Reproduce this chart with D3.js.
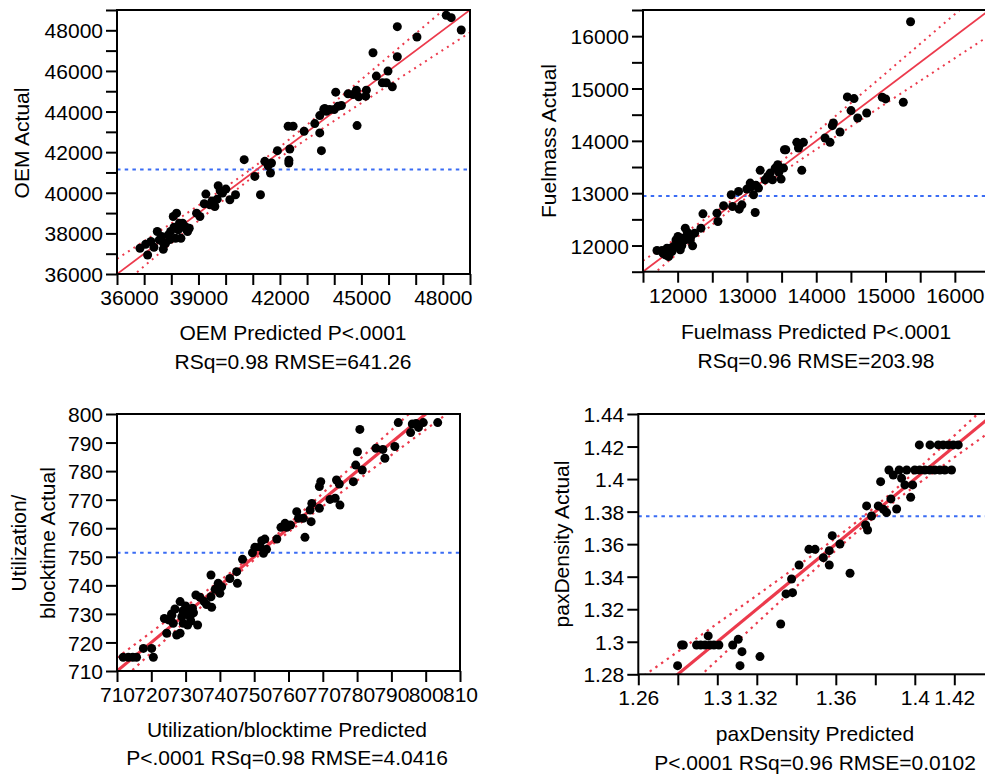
<!DOCTYPE html>
<html><head><meta charset="utf-8">
<script src="https://cdn.jsdelivr.net/npm/d3@7"></script>
<style>
body{margin:0;background:#fff;overflow:hidden}
svg{display:block}
text{font-family:"Liberation Sans",Arial,sans-serif;fill:#000;font-size:21px}
</style></head><body>
<svg id="c" width="985" height="776"></svg>
<script>
// ---------- Panel 1: OEM ----------
const oemPred = [36846,37054,37128,37361,37483,37557,37643,37704,37790,37888,
 37974,38072,38194,38158,38256,38354,38415,38501,38599,38660,
 38930,39053,39212,39273,39420,39604,39690,39727,39886,40009,
 40156,40365,40684,41076,41284,41444,41566,41652,41689,41909,
 42302,42327,42364,42486,42890,43283,43467,43467,43528,43614,
 43712,43835,44055,44141,44264,44509,44693,44816,44841,44902,
 45159,45183,45428,45551,45772,45919,45980,46139,46323,46323,
 47047,48125,48309,48677,37250,37700,37950,38100,38300,38550,
 42330,43650,44000,39500,39800];
const oemActual = [37267,37465,36938,37317,38090,37679,37844,37218,37514,37926,
 38090,38831,38996,37761,38173,37761,38502,38337,38090,38255,
 38996,38831,39457,39934,39407,39325,39687,40346,39983,40181,
 39654,39901,41629,40806,39901,41547,41333,40971,41465,42074,
 43275,41465,42156,43275,43028,43407,42946,43802,42074,44098,
 44016,44098,44954,44262,44296,44872,44839,45053,43308,44724,
 44757,45053,46897,45744,45415,45415,45991,45218,46699,48180,
 47670,48740,48624,48016,37600,37550,37700,38300,38500,38200,
 41600,44150,44100,39600,40100];
const oemMean = 41140;
const oemBand = [[36000,35254,36746],[37500,36948,38052],[39000,38626,39374],[40500,40254,40746],
 [41140,40910,41370],[42000,41741,42259],[43500,43101,43899],[45000,44420,45580],
 [46500,45725,47275],[48000,47026,48974],[49000,47891,50109]];
const oemXTicks = d3.range(36000, 49001, 1000);
const oemXLabels = [36000,39000,42000,45000,48000];
const oemYTicks = d3.range(36000, 49001, 1000);
const oemYLabels = [36000,38000,40000,42000,44000,46000,48000];

// ---------- Panel 2: Fuelmass ----------
const fuelPred = [11702,11774,11822,11870,11846,11918,11942,11976,12005,12038,
 12038,12072,12110,12110,12149,12182,12216,12245,12336,12365,
 12567,12581,12663,12773,12792,12879,12888,12927,12999,13047,
 13095,13119,13167,13191,13263,13335,13369,13407,13445,13493,
 13527,13541,13719,13743,13815,13791,14127,14199,14232,14247,
 14343,14449,14502,14545,14598,14728,14953,15001,15256,15361,
 11790,11900,11990,12060,12140,12190,13130,13060,13300,13460,
 13560,13760];
const fuelActual = [11904,11904,11821,11789,11949,11885,11981,12108,12172,11917,
 12045,12140,12332,12108,12204,12108,11994,12236,12332,12606,
 12619,12459,12759,12970,12746,13034,12695,12778,13078,13193,
 12970,12632,13097,13436,13257,13384,13257,13480,13544,13270,
 13480,13831,13971,13863,13971,13436,14054,13971,14290,14341,
 14169,14839,14578,14807,14437,14533,14833,14801,14737,16275,
 11850,11950,12060,12000,12250,12170,13150,13120,13320,13400,
 13830,13920];
const fuelMean = 12948;
const fuelBand = [[11500,11289,11711],[12000,11849,12151],[12500,12400,12600],[12948,12868,13028],
 [13500,13391,13609],[14000,13837,14163],[14500,14276,14724],[15000,14712,15288],
 [15500,15146,15854],[16000,15580,16420],[16500,16014,16986]];
const fuelXTicks = d3.range(11500, 16501, 500);
const fuelXLabels = [12000,13000,14000,15000,16000];
const fuelYTicks = d3.range(11500, 16501, 500);
const fuelYLabels = [12000,13000,14000,15000,16000];

// ---------- Panel 3: Utilization/blocktime ----------
const utilPred = [711.8,713.3,714.6,715.7,717.7,720.1,720.6,723.8,724.5,725.0,
 725.9,726.4,726.9,727.4,728.4,728.4,728.9,729.3,730.0,730.6,
 730.8,731.3,732.3,733.0,733.5,734.2,735.4,736.1,737.4,737.4,
 737.6,738.6,739.5,740.0,740.5,742.9,744.9,745.1,746.6,749.5,
 750.2,751.7,752.2,752.7,753.1,753.6,756.6,757.8,759.0,759.5,
 760.6,762.4,762.9,764.3,764.8,766.6,766.3,766.8,769.0,769.0,
 769.4,772.1,773.6,774.0,774.8,775.0,778.9,779.6,780.1,780.8,
 781.5,785.5,787.5,788.1,791.0,792.0,795.6,796.1,797.2,797.9,
 799.3,803.5,726.0,731.5,729.2,732.0];
const utilActual = [714.8,714.8,714.8,714.8,717.9,717.9,714.8,728.4,723.2,727.9,
 730.0,726.7,731.7,722.6,734.3,723.2,729.0,726.7,732.8,726.1,
 730.8,729.0,730.4,736.6,726.1,735.8,734.3,733.3,736.0,743.6,
 732.3,738.6,740.7,737.2,739.5,742.4,744.8,740.7,749.1,751.4,
 753.3,753.5,755.6,751.2,756.2,752.6,756.2,760.3,761.7,760.3,
 761.1,765.8,763.5,763.5,756.8,762.3,766.4,768.7,774.6,767.0,
 776.3,770.1,770.5,776.9,775.5,768.1,776.3,782.1,786.8,794.6,
 780.4,788.0,787.6,784.5,788.6,797.0,793.5,796.5,796.7,795.3,
 797.0,797.0,729.5,727.5,731.0,732.0];
const utilMean = 751.4;
const utilBand = [[710,705.34,714.66],[720,716.4,723.6],[730,727.44,732.56],[740,738.4,741.6],
 [751.4,750.4,752.4],[760,758.62,761.38],[770,767.72,772.28],[780,776.7,783.3],
 [790,785.64,794.36],[800,794.56,805.44],[810,803.47,816.53]];
const utilXTicks = d3.range(710, 811, 10);
const utilXLabels = d3.range(710, 811, 10);
const utilYTicks = d3.range(710, 801, 10);
const utilYLabels = d3.range(710, 801, 10);

// ---------- Panel 4: paxDensity ----------
const paxPred = [1.2799,1.2819,1.2828,1.2895,1.2916,1.2938,1.2954,1.2963,1.2983,1.3008,
 1.3078,1.3106,1.3115,1.3125,1.3216,1.3321,1.3348,1.3381,1.3376,1.3414,
 1.3464,1.3495,1.3537,1.3567,1.3567,1.3582,1.3621,1.3672,1.3751,1.3761,
 1.3756,1.3781,1.3815,1.3827,1.3841,1.3857,1.3879,1.3908,1.3869,1.3891,
 1.3921,1.3933,1.3959,1.3950,1.3979,1.3989,1.4000,1.4025,1.4051,1.4076,
 1.4101,1.4127,1.4152,1.4186,1.4023,1.4077,1.4119,1.4144,1.4170,1.4195,
 1.4220];
const paxActual = [1.2853,1.2980,1.2980,1.2980,1.2980,1.2980,1.3036,1.2980,1.2980,1.2980,
 1.2980,1.3015,1.2853,1.2939,1.2909,1.3109,1.3294,1.3302,1.3386,1.3472,
 1.3568,1.3568,1.3517,1.3472,1.3560,1.3652,1.3601,1.3421,1.3718,1.3687,
 1.3835,1.3773,1.3835,1.3984,1.3814,1.3794,1.3878,1.3816,1.4056,1.4025,
 1.4056,1.4005,1.4056,1.3964,1.3888,1.3964,1.4056,1.4056,1.4056,1.4056,
 1.4056,1.4056,1.4056,1.4056,1.4210,1.4210,1.4210,1.4210,1.4210,1.4210,
 1.4210];
const paxMean = 1.3771;
const paxBand = [[1.26,1.2434,1.2767],[1.28,1.2661,1.2939],[1.30,1.2888,1.3112],[1.32,1.3115,1.3285],
 [1.34,1.3340,1.3460],[1.36,1.3562,1.3638],[1.377,1.374,1.380],[1.39,1.3865,1.3935],
 [1.40,1.3956,1.4044],[1.42,1.4133,1.4267],[1.44,1.4307,1.4493]];
const paxXTicks = [1.26,1.28,1.30,1.32,1.34,1.36,1.38,1.40,1.42,1.44];
const paxXLabels = [1.26,1.30,1.32,1.36,1.40,1.42];
const paxYTicks = [1.28,1.30,1.32,1.34,1.36,1.38,1.40,1.42,1.44];
const paxYLabels = [1.28,1.30,1.32,1.34,1.36,1.38,1.40,1.42,1.44];

const svg = d3.select("#c");
const RED = "#ec3a4c", BLUE = "#3a6cf4";

function panel(c){
  const x = d3.scaleLinear().domain(c.xDomain).range([c.left, c.right]);
  const y = d3.scaleLinear().domain(c.yDomain).range([c.bottom, c.top]);
  const g = svg.append("g");
  const cid = "clip" + c.id;
  svg.append("clipPath").attr("id", cid).append("rect")
    .attr("x", c.left).attr("y", c.top).attr("width", c.right - c.left).attr("height", c.bottom - c.top);
  const inner = g.append("g").attr("clip-path", `url(#${cid})`);
  inner.append("line").attr("x1", c.left).attr("x2", c.right)
    .attr("y1", y(c.mean)).attr("y2", y(c.mean))
    .attr("stroke", BLUE).attr("stroke-width", 2).attr("stroke-dasharray", "3.5,4.2");
  const lo = d3.line().x(d => x(d[0])).y(d => y(d[1])).curve(d3.curveNatural);
  const hi = d3.line().x(d => x(d[0])).y(d => y(d[2])).curve(d3.curveNatural);
  [lo, hi].forEach(l => inner.append("path").attr("d", l(c.band)).attr("fill", "none")
    .attr("stroke", RED).attr("stroke-width", c.dotW).attr("stroke-dasharray", c.dash));
  inner.append("line")
    .attr("x1", x(c.xDomain[0])).attr("y1", y(c.xDomain[0]))
    .attr("x2", x(c.xDomain[1])).attr("y2", y(c.xDomain[1]))
    .attr("stroke", RED).attr("stroke-width", c.fitW);
  g.append("g").selectAll("circle").data(d3.zip(c.pred, c.act)).join("circle")
    .attr("cx", d => x(d[0])).attr("cy", d => y(d[1])).attr("r", 4.5).attr("fill", "#000");

  const lx = new Set(c.xLabels.map(v => +v.toFixed(4)));
  const ly = new Set(c.yLabels.map(v => +v.toFixed(4)));
  const xa = g.append("g").attr("transform", `translate(0,${c.bottom})`)
    .call(d3.axisBottom(x).tickValues(c.xTicks).tickSize(11).tickSizeOuter(0).tickPadding(5)
      .tickFormat(v => lx.has(+v.toFixed(4)) ? c.fmt(v) : ""));
  const ya = g.append("g").attr("transform", `translate(${c.left},0)`)
    .call(d3.axisLeft(y).tickValues(c.yTicks).tickSize(11).tickSizeOuter(0).tickPadding(3)
      .tickFormat(v => ly.has(+v.toFixed(4)) ? c.fmt(v) : ""));
  [xa, ya].forEach(a => {
    a.attr("font-size", null).attr("font-family", null);
    a.select(".domain").remove();
    a.selectAll(".tick line").attr("stroke", "#000").attr("stroke-width", 2);
  });
  ya.selectAll(".tick text").attr("dy", "0.36em");
  if (c.firstDx) xa.selectAll(".tick text").filter(v => v === c.xTicks[0]).attr("dx", c.firstDx);
  g.append("rect").attr("x", c.left).attr("y", c.top)
    .attr("width", c.right - c.left).attr("height", c.bottom - c.top)
    .attr("fill", "none").attr("stroke", "#000").attr("stroke-width", 2);

  c.xTitle.forEach((t, i) => g.append("text").attr("x", c.xTitleX).attr("y", c.xTitleY[i])
    .attr("text-anchor", "middle").text(t));
  c.yTitle.forEach((t, i) => g.append("text")
    .attr("transform", `translate(${c.yTitleX[i]},${c.yTitleY}) rotate(-90)`)
    .attr("text-anchor", "middle").text(t));
}

const fmtInt = d3.format("d");
const fmtDec = v => String(+v.toFixed(2));

panel({id:1, left:117, right:470, top:10, bottom:274, xDomain:[36000,49000], yDomain:[36000,49000],
  pred:oemPred, act:oemActual, mean:oemMean, band:oemBand, xTicks:oemXTicks, xLabels:oemXLabels,
  yTicks:oemYTicks, yLabels:oemYLabels, fmt:fmtInt, fitW:1.8, dotW:2, dash:"2,4.5", firstDx:12,
  xTitle:["OEM Predicted P<.0001","RSq=0.98 RMSE=641.26"], xTitleX:293, xTitleY:[340,369],
  yTitle:["OEM Actual"], yTitleX:[29], yTitleY:143});

panel({id:2, left:643, right:989.5, top:10, bottom:271.7, xDomain:[11500,16500], yDomain:[11500,16500],
  pred:fuelPred, act:fuelActual, mean:fuelMean, band:fuelBand, xTicks:fuelXTicks, xLabels:fuelXLabels,
  yTicks:fuelYTicks, yLabels:fuelYLabels, fmt:fmtInt, fitW:1.8, dotW:2, dash:"2,4.5",
  xTitle:["Fuelmass Predicted P<.0001","RSq=0.96 RMSE=203.98"], xTitleX:816, xTitleY:[339,368],
  yTitle:["Fuelmass Actual"], yTitleX:[556], yTitleY:141});

panel({id:3, left:117, right:460, top:414, bottom:671, xDomain:[710,810], yDomain:[710,800],
  pred:utilPred, act:utilActual, mean:utilMean, band:utilBand, xTicks:utilXTicks, xLabels:utilXLabels,
  yTicks:utilYTicks, yLabels:utilYLabels, fmt:fmtInt, fitW:3.2, dotW:2.2, dash:"2.4,4.6",
  xTitle:["Utilization/blocktime Predicted","P<.0001 RSq=0.98 RMSE=4.0416"], xTitleX:287, xTitleY:[737,765],
  yTitle:["Utilization/","blocktime Actual"], yTitleX:[26,55], yTitleY:543});

panel({id:4, left:638.3, right:993.8, top:414, bottom:674.3, xDomain:[1.26,1.44], yDomain:[1.28,1.44],
  pred:paxPred, act:paxActual, mean:paxMean, band:paxBand, xTicks:paxXTicks, xLabels:paxXLabels,
  yTicks:paxYTicks, yLabels:paxYLabels, fmt:fmtDec, fitW:3.2, dotW:2.2, dash:"2.4,4.6",
  xTitle:["paxDensity Predicted","P<.0001 RSq=0.96 RMSE=0.0102"], xTitleX:815, xTitleY:[741,770],
  yTitle:["paxDensity Actual"], yTitleX:[569], yTitleY:544});
</script>
</body></html>
